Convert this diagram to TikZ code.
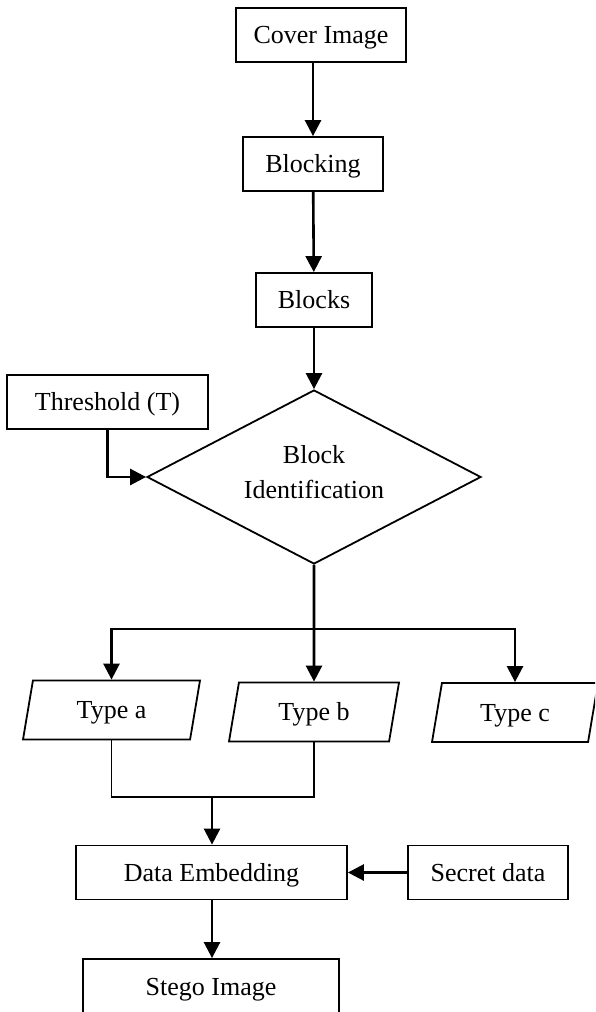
\documentclass[tikz,border=0pt]{standalone}
\usepackage{fontspec}
\setmainfont{Liberation Serif}
\usepackage{tikz}
\usetikzlibrary{shapes.geometric,arrows.meta}
\tikzstyle{stepbox}=[rectangle,draw,line width=0.9pt,inner sep=0pt,minimum height=27pt,text height=8.6pt,text depth=0pt,font=\fontsize{13}{17.5}\selectfont]

\begin{document}
\begin{tikzpicture}[x=0.5pt,y=-0.5pt]
					\tikzstyle{decide}=[diamond,draw,line width=0.9pt,inner sep=0pt,aspect=1.9,minimum width=167pt,minimum height=87pt,align=center,font=\fontsize{13}{17.5}\selectfont]
					\tikzstyle{kind}=[trapezium,draw,line width=0.9pt,trapezium left angle=60,trapezium right angle=120,trapezium stretches body,inner sep=0pt,minimum height=29.5pt,text height=8.6pt,text depth=0pt,font=\fontsize{13}{17.5}\selectfont]
					\tikzstyle{flow}=[line width=1.3pt,-{Triangle[length=8pt,width=8pt]}]
					\tikzstyle{joint}=[line width=0.8pt]
					\useasboundingbox (0,0) rectangle (595,1012);
					\clip (0,0) rectangle (595,1012);
					\node [stepbox,minimum width=85pt] (cover) at (321,35) {Cover Image};
					\node [stepbox,minimum width=70pt] (blocking) at (313,164) {Blocking};
					\node [stepbox,minimum width=58pt] (blocks) at (314,300) {Blocks};
					\node [decide] (ident) at (314,477) {\raisebox{-0.7pt}[0pt][0pt]{\parbox{90pt}{\centering Block\\Identification}}};
					\node [stepbox,minimum width=100.5pt] (thresh) at (107.5,402) {Threshold (T)};
					\node [kind,minimum width=88.5pt] (typea) at (111.5,710) {Type a};
					\node [kind,minimum width=85pt] (typeb) at (314,712) {Type b};
					\node [kind,minimum width=83pt] (typec) at (515,712.5) {Type c};
					\node [stepbox,minimum width=135.5pt] (embed) at (211.5,872.5) {Data Embedding};
					\node [stepbox,minimum width=80pt] (secret) at (488,872.5) {Secret data};
					\node [stepbox,minimum width=128pt,minimum height=28pt] (stego) at (211,987) {Stego Image};
					\coordinate (split) at (313,629);
					\coordinate (merge) at (212,797);
					\draw [flow] (cover.south -| blocking.north) -- (blocking.north);
					\draw [flow] (blocking) -- (blocks);
					\draw [flow] (blocks) -- (ident.north);
					\draw [flow] (thresh.south) |- (ident.west);
					\draw [flow] (ident.south) -- (typeb.north);
					\draw [flow] (split) -| (typea.north);
					\draw [flow] (split) -| (typec.north);
					\draw [joint] (typea.south) |- (merge) -| (typeb.south);
					\draw [flow] (merge) -- (embed.north -| merge);
					\draw [flow] (secret) -- (embed);
					\draw [flow] (embed.south -| merge) -- (stego.north -| merge);
					\end{tikzpicture}
\end{document}
